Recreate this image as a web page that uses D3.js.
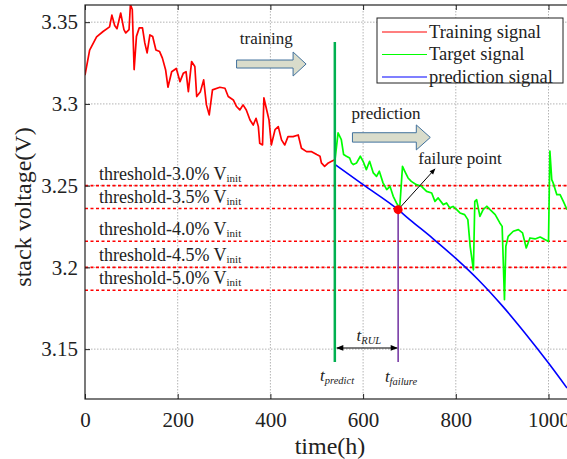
<!DOCTYPE html>
<html>
<head>
<meta charset="utf-8">
<script src="https://cdn.jsdelivr.net/npm/d3@7"></script>
<style>
  body { margin: 0; background: #fff; }
  text { font-family: "Liberation Serif", "Times New Roman", serif; fill: #222; }
</style>
</head>
<body>
<div id="graf"></div>
<script>
// Datos
var trainTime = [0, 10, 25, 39, 53, 58, 64, 69, 77, 84, 88, 95, 98, 102, 106, 111, 117, 124, 129, 134,
  140, 146, 153, 161, 167, 174, 179, 187, 197, 205, 212, 218, 223, 230, 237, 241, 249, 256, 262, 268,
  275, 291, 302, 309, 320, 327, 334, 341, 348, 356, 363, 369, 374, 377, 383, 386, 392, 397, 402, 410,
  417, 424, 431, 438, 449, 460, 467, 478, 489, 500, 507, 510, 517, 525, 532, 539];
var trainVolt = [3.3176, 3.3329, 3.341, 3.3443, 3.3471, 3.3543, 3.348, 3.346, 3.3556, 3.3454, 3.3434, 3.3454, 3.3608, 3.3577, 3.321, 3.3413, 3.3465, 3.3465, 3.3373, 3.3312,
  3.3422, 3.3412, 3.333, 3.332, 3.328, 3.3207, 3.3102, 3.3197, 3.3217, 3.3136, 3.3187, 3.3197, 3.3075, 3.3259, 3.3229, 3.3045, 3.3075, 3.3147, 3.2994, 3.2933,
  3.3086, 3.3102, 3.3096, 3.3045, 3.3024, 3.2984, 3.2963, 3.2994, 3.2963, 3.2902, 3.2871, 3.2912, 3.2861, 3.2759, 3.2749, 3.3037, 3.2963, 3.2902, 3.2749, 3.2843,
  3.2861, 3.278, 3.2749, 3.28, 3.28, 3.281, 3.2729, 3.2708, 3.2708, 3.269, 3.268, 3.2639, 3.2618, 3.2639, 3.2649, 3.2659];

var targetTime = [539, 546, 553, 558, 564, 571, 575, 579, 586, 594, 600, 607, 614, 622, 629, 635, 643, 651, 658, 665,
  672, 679, 685, 690, 697, 704, 715, 726, 737, 748, 755, 762, 773, 780, 787, 794, 802, 809, 819, 826,
  831, 838, 841, 845, 852, 859, 867, 874, 885, 895, 900, 905, 908, 913, 924, 935, 944, 952, 960, 971,
  982, 992, 1000, 1003, 1007, 1010, 1018, 1025, 1032, 1040];
var targetVolt = [3.2649, 3.2823, 3.2782, 3.269, 3.268, 3.2669, 3.2639, 3.2629, 3.2639, 3.268, 3.2649, 3.2598, 3.2649, 3.2578, 3.2557, 3.2588, 3.2517, 3.2476, 3.2496, 3.2435,
  3.2394, 3.2364, 3.2618, 3.2588, 3.2547, 3.2526, 3.2506, 3.2496, 3.2465, 3.2455, 3.2404, 3.2425, 3.2384, 3.2394, 3.2364, 3.2373, 3.2353, 3.2333, 3.2323, 3.2292,
  3.2129, 3.1985, 3.2404, 3.2414, 3.2312, 3.2353, 3.2374, 3.2353, 3.2323, 3.2272, 3.2251, 3.1802, 3.2129, 3.219, 3.2221, 3.2231, 3.2211, 3.2119, 3.218, 3.2174,
  3.2186, 3.217, 3.2159, 3.2712, 3.2537, 3.2517, 3.2445, 3.2445, 3.2404, 3.2353];

var predTime = [539, 600, 675.6, 700, 750, 800, 850, 900, 950, 1000, 1040];
var predVolt = [3.263, 3.2506, 3.2353, 3.2294, 3.2178, 3.2055, 3.192, 3.1766, 3.1596, 3.1415, 3.1262];

var thresholds = [3.25, 3.236, 3.216, 3.2, 3.186];
var thresholdPct = ["3.0%", "3.5%", "4.0%", "4.5%", "5.0%"];

var xTicks = [0, 200, 400, 600, 800, 1000];
var yTicks = [3.15, 3.2, 3.25, 3.3, 3.35];
var yTickLabels = ["3.15", "3.2", "3.25", "3.3", "3.35"];

var legendNames = ["Training signal", "Target signal", "prediction signal"];
var legendColors = ["#ff0000", "#00ff00", "#0000ff"];

var tPredict = 539;
var tFailure = 675.6;
var vFailure = 3.2353;

var serif = "'Liberation Serif', 'Times New Roman', serif";

// Lienzo
graf = d3.select("#graf");
ancho_total = 567;
alto_total = 459;
margins = { top: 5, left: 85, right: -3, bottom: 60 };
ancho = ancho_total - margins.left - margins.right;
alto = alto_total - margins.top - margins.bottom;

svg = graf.append("svg")
  .attr("width", ancho_total)
  .attr("height", alto_total);

g = svg.append("g")
  .attr("transform", `translate(${margins.left}, ${margins.top})`);

// Escaladores
x = d3.scaleLinear().domain([0, ancho / 0.4635]).range([0, ancho]);
y = d3.scaleLinear().domain([3.1195, 3.3605]).range([alto, 0]);

svg.append("defs").append("clipPath").attr("id", "area")
  .append("rect").attr("width", ancho).attr("height", alto);

// Rejilla
g.append("g").selectAll("line").data(xTicks.slice(1)).join("line")
  .attr("x1", (d) => x(d)).attr("x2", (d) => x(d))
  .attr("y1", 0).attr("y2", alto)
  .attr("stroke", "#b4b4b4").attr("stroke-width", 1)
  .attr("stroke-dasharray", "1.5,1.5");
g.append("g").selectAll("line").data(yTicks).join("line")
  .attr("x1", 0).attr("x2", ancho)
  .attr("y1", (d) => y(d)).attr("y2", (d) => y(d))
  .attr("stroke", "#b4b4b4").attr("stroke-width", 1)
  .attr("stroke-dasharray", "1.5,1.5");

// Umbrales
g.append("g").selectAll("line").data(thresholds).join("line")
  .attr("x1", 0).attr("x2", ancho)
  .attr("y1", (d) => y(d)).attr("y2", (d) => y(d))
  .attr("stroke", "#ff0000").attr("stroke-width", 1.6)
  .attr("stroke-dasharray", "3,2.5");

etiquetas = g.append("g").selectAll("text").data(thresholds).join("text")
  .attr("x", x(30))
  .attr("y", (d) => y(d) - 6)
  .style("font-size", "18px");
etiquetas.append("tspan").text((d, i) => `threshold-${thresholdPct[i]} V`);
etiquetas.append("tspan").attr("dy", 2).style("font-size", "11px").text("init");

// Lineas de datos
lineaGen = d3.line().x((d) => x(d[0])).y((d) => y(d[1]));
datos = g.append("g").attr("clip-path", "url(#area)");

datos.append("path")
  .attr("fill", "none").attr("stroke", "#ff0000").attr("stroke-width", 1.7)
  .attr("stroke-linejoin", "round")
  .attr("d", lineaGen(d3.zip(trainTime, trainVolt)));
datos.append("path")
  .attr("fill", "none").attr("stroke", "#00ff00").attr("stroke-width", 1.7)
  .attr("stroke-linejoin", "round")
  .attr("d", lineaGen(d3.zip(targetTime, targetVolt)));
datos.append("path")
  .attr("fill", "none").attr("stroke", "#0000ff").attr("stroke-width", 1.6)
  .attr("d", lineaGen.curve(d3.curveMonotoneX)(d3.zip(predTime, predVolt)));

// Lineas verticales t_predict y t_failure
g.append("line")
  .attr("x1", x(tPredict)).attr("x2", x(tPredict))
  .attr("y1", y(3.3379)).attr("y2", y(3.1421))
  .attr("stroke", "#00b050").attr("stroke-width", 2.5);
g.append("line")
  .attr("x1", x(tFailure)).attr("x2", x(tFailure))
  .attr("y1", y(vFailure)).attr("y2", y(3.1421))
  .attr("stroke", "#7030a0").attr("stroke-width", 1.5);

// Flechas
defs = svg.select("defs");
defs.append("marker").attr("id", "punta")
  .attr("viewBox", "0 0 10 10").attr("refX", 9).attr("refY", 5)
  .attr("markerWidth", 8).attr("markerHeight", 6)
  .attr("orient", "auto-start-reverse")
  .append("path").attr("d", "M0,1L10,5L0,9Z").attr("fill", "#000");

g.append("line")
  .attr("x1", x(tPredict) + 2).attr("x2", x(tFailure) - 1)
  .attr("y1", y(3.1507)).attr("y2", y(3.1507))
  .attr("stroke", "#000").attr("stroke-width", 1.2)
  .attr("marker-start", "url(#punta)").attr("marker-end", "url(#punta)");

g.append("line")
  .attr("x1", x(tFailure)).attr("x2", x(755))
  .attr("y1", y(vFailure)).attr("y2", y(3.2602))
  .attr("stroke", "#000").attr("stroke-width", 1)
  .attr("marker-end", "url(#punta)");

g.append("circle")
  .attr("cx", x(tFailure)).attr("cy", y(vFailure)).attr("r", 4.5)
  .attr("fill", "#ff0000");

// Flechas de bloque
function bloque(x0, x1, yc, body, head, len) {
  var a = x(x0), b = x(x1), c = y(yc);
  return `M${a},${c - body}L${b - len},${c - body}L${b - len},${c - head}L${b},${c}` +
    `L${b - len},${c + head}L${b - len},${c + body}L${a},${c + body}Z`;
}
g.append("path").attr("d", bloque(327, 477, 3.3244, 4, 12, 13))
  .attr("fill", "#d9dccb").attr("stroke", "#41719c").attr("stroke-width", 1);
g.append("path").attr("d", bloque(577, 745, 3.2795, 4.7, 12.5, 14))
  .attr("fill", "#d9dccb").attr("stroke", "#41719c").attr("stroke-width", 1);

g.append("text").attr("x", x(334)).attr("y", y(3.3366)).style("font-size", "17px").text("training");
g.append("text").attr("x", x(575)).attr("y", y(3.2908)).style("font-size", "17px").text("prediction");
g.append("text").attr("x", x(719)).attr("y", y(3.2632)).style("font-size", "17px").text("failure point");

// Etiquetas t
function tLabel(xv, yv, sub) {
  var t = g.append("text").attr("x", x(xv)).attr("y", y(yv))
    .style("font-style", "italic").style("font-size", "17px");
  t.append("tspan").text("t");
  t.append("tspan").attr("dy", 3).style("font-size", "10.5px").text(sub);
}
tLabel(507, 3.1305, "predict");
tLabel(647, 3.1299, "failure");
tLabel(586, 3.155, "RUL");

// Ejes
xAxis = g.append("g").attr("transform", `translate(0, ${alto})`)
  .call(d3.axisBottom(x).tickValues(xTicks).tickSize(-5).tickPadding(13)
    .tickFormat(d3.format("d")));
yAxis = g.append("g")
  .call(d3.axisLeft(y).tickValues(yTicks).tickSize(-5).tickPadding(7)
    .tickFormat((d, i) => yTickLabels[i]));
topAxis = g.append("g")
  .call(d3.axisTop(x).tickValues(xTicks).tickSize(-5).tickFormat(""));
[xAxis, yAxis, topAxis].forEach((a) => {
  a.attr("font-family", serif).attr("font-size", 21);
  a.select(".domain").remove();
  a.selectAll("line").attr("stroke", "#222");
  a.selectAll("text").attr("fill", "#222")
    .style("font-size", "21px").style("font-family", serif);
});

g.append("rect")
  .attr("width", ancho).attr("height", alto)
  .attr("fill", "none").attr("stroke", "#222").attr("stroke-width", 1.2);

// Titulos de ejes
svg.append("text")
  .attr("x", 330).attr("y", 454)
  .attr("text-anchor", "middle").style("font-size", "24px").text("time(h)");
svg.append("text")
  .attr("transform", "translate(31, 207) rotate(-90)")
  .attr("text-anchor", "middle").style("font-size", "24px").text("stack voltage(V)");

// Leyenda
leyenda = svg.append("g").attr("transform", "translate(377, 18)");
leyenda.append("rect")
  .attr("width", 186).attr("height", 65)
  .attr("fill", "#fff").attr("stroke", "#222").attr("stroke-width", 1);
items = leyenda.selectAll("g.item").data(legendNames).join("g")
  .attr("class", "item")
  .attr("transform", (d, i) => `translate(0, ${14 + i * 22.5})`);
items.append("line")
  .attr("x1", 5).attr("x2", 50)
  .attr("stroke", (d, i) => legendColors[i]).attr("stroke-width", 1.2);
items.append("text")
  .attr("x", 52).attr("y", 5.5)
  .style("font-size", "18.5px").text((d) => d);
</script>
</body>
</html>
